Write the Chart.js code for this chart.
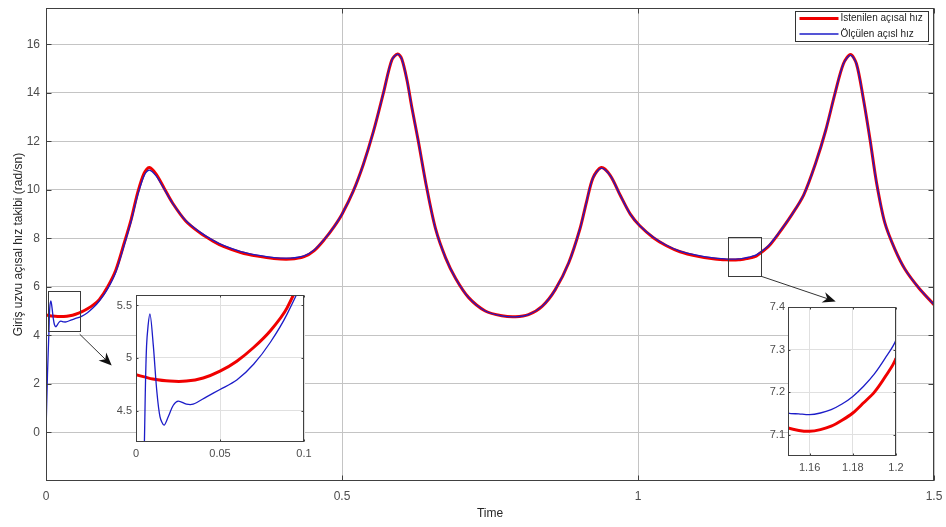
<!DOCTYPE html>
<html>
<head>
<meta charset="utf-8">
<script src="https://cdn.jsdelivr.net/npm/chart.js@4.4.1/dist/chart.umd.min.js"></script>
<style>
  body { margin: 0; background: #fff; }
  #wrap { position: relative; width: 946px; height: 527px; }
  canvas { position: absolute; }
</style>
</head>
<body>
<div id="wrap">
  <canvas id="main" width="946" height="527" style="left:0;top:0"></canvas>
  <canvas id="zoomStart" width="215" height="180" style="left:100px;top:285px"></canvas>
  <canvas id="zoomMid" width="165" height="180" style="left:745px;top:297px"></canvas>
</div>
<script>
const seriesNames = ['İstenilen açısal hız', 'Ölçülen açısl hız'];

const desiredTime = [0, 0.005, 0.01, 0.02, 0.03, 0.04, 0.05, 0.06, 0.07, 0.08, 0.09, 0.104,
  0.118, 0.132, 0.144, 0.155, 0.166, 0.1745, 0.186, 0.2, 0.214, 0.236, 0.259, 0.2815, 0.3007,
  0.329, 0.357, 0.385, 0.413, 0.436, 0.453, 0.47, 0.487, 0.5, 0.519, 0.536, 0.553, 0.57, 0.584,
  0.594, 0.601, 0.61, 0.618, 0.629, 0.643, 0.658, 0.675, 0.692, 0.714, 0.742, 0.77, 0.793, 0.815,
  0.838, 0.86, 0.883, 0.902, 0.913, 0.924, 0.938, 0.953, 0.97, 0.987, 1.003, 1.026, 1.048, 1.071,
  1.099, 1.127, 1.15, 1.155, 1.16, 1.165, 1.17, 1.175, 1.18, 1.185, 1.19, 1.195, 1.2, 1.22, 1.236,
  1.259, 1.28, 1.3, 1.317, 1.333, 1.347, 1.359, 1.369, 1.38, 1.392, 1.403, 1.417, 1.434, 1.451,
  1.474, 1.5];
const desiredSpeed = [4.84, 4.82, 4.80, 4.78, 4.78, 4.81, 4.875, 4.97, 5.10, 5.26, 5.48, 6.0,
  6.7, 7.8, 8.8, 9.9, 10.7, 10.92, 10.65, 10.05, 9.45, 8.72, 8.25, 7.9, 7.66,
  7.42, 7.27, 7.17, 7.15, 7.25, 7.5, 7.95, 8.5, 9.0, 9.95, 11.05, 12.4, 14.0, 15.35,
  15.6, 15.4, 14.5, 13.4, 12.0, 10.1, 8.4, 7.2, 6.35, 5.56, 5.01, 4.81, 4.77, 4.86,
  5.2, 5.88, 7.0, 8.4, 9.5, 10.5, 10.92, 10.6, 9.78, 9.0, 8.52, 8.03, 7.7, 7.45,
  7.27, 7.16, 7.116, 7.11, 7.108, 7.112, 7.12, 7.134, 7.151, 7.175, 7.2, 7.236, 7.28, 7.66, 8.15,
  8.95, 9.8, 11.1, 12.45, 14.0, 15.2, 15.58, 15.2, 13.85, 12.07, 10.29, 8.64, 7.55, 6.73,
  5.97, 5.27];

const measuredTime = [0, 0.0025, 0.005, 0.0063, 0.0083, 0.0103, 0.0123, 0.0143, 0.0167, 0.0192,
  0.0222, 0.0252, 0.03, 0.034, 0.042, 0.05, 0.06, 0.07, 0.08, 0.09, 0.104,
  0.118, 0.132, 0.144, 0.155, 0.166, 0.1745, 0.186, 0.2, 0.214, 0.236, 0.259, 0.2815, 0.3007,
  0.329, 0.357, 0.385, 0.413, 0.436, 0.453, 0.47, 0.487, 0.5, 0.519, 0.536, 0.553, 0.57, 0.584,
  0.594, 0.601, 0.61, 0.618, 0.629, 0.643, 0.658, 0.675, 0.692, 0.714, 0.742, 0.77, 0.793, 0.815,
  0.838, 0.86, 0.883, 0.902, 0.913, 0.924, 0.938, 0.953, 0.97, 0.987, 1.003, 1.026, 1.048, 1.071,
  1.099, 1.127, 1.15, 1.155, 1.16, 1.165, 1.17, 1.175, 1.18, 1.185, 1.19, 1.195, 1.2, 1.22, 1.236,
  1.259, 1.28, 1.3, 1.317, 1.333, 1.347, 1.359, 1.369, 1.38, 1.392, 1.403, 1.417, 1.434, 1.451,
  1.474, 1.5];
const measuredSpeed = [0, 2.4, 4.2, 5.12, 5.42, 5.12, 4.7, 4.44, 4.36, 4.44,
  4.55, 4.59, 4.56, 4.56, 4.63, 4.70, 4.79, 4.94, 5.15, 5.42, 5.92,
  6.62, 7.72, 8.72, 9.8, 10.6, 10.82, 10.58, 10.02, 9.45, 8.74, 8.28, 7.93, 7.7,
  7.46, 7.31, 7.21, 7.19, 7.28, 7.52, 7.96, 8.5, 9.0, 9.95, 11.05, 12.4, 14.0, 15.35,
  15.6, 15.4, 14.5, 13.4, 12.0, 10.1, 8.4, 7.2, 6.35, 5.56, 5.01, 4.81, 4.77, 4.86,
  5.2, 5.88, 7.0, 8.4, 9.5, 10.5, 10.9, 10.6, 9.78, 9.0, 8.52, 8.05, 7.72, 7.48,
  7.31, 7.2, 7.151, 7.149, 7.147, 7.151, 7.159, 7.172, 7.19, 7.214, 7.243, 7.28, 7.323, 7.69, 8.17,
  8.95, 9.8, 11.1, 12.45, 14.0, 15.2, 15.56, 15.2, 13.85, 12.07, 10.29, 8.64, 7.55, 6.73,
  5.97, 5.27];

const mainXTicks = [0, 0.5, 1, 1.5];
const mainYTicks = [0, 2, 4, 6, 8, 10, 12, 14, 16];
const startXTicks = [0, 0.05, 0.1];
const startYTicks = [4.5, 5, 5.5];
const midXTicks = [1.16, 1.18, 1.2];
const midYTicks = [7.1, 7.2, 7.3, 7.4];

// zoom rectangles and arrows on the main axes, in data units
const zoomBoxes = [[0.003, 0.057, 4.2, 5.84], [1.1515, 1.208, 6.44, 8.07]];
const zoomArrows = [[0.057, 4.05, 0.111, 2.76], [1.208, 6.44, 1.334, 5.4]];

const family = '"Liberation Sans", Arial, Helvetica, sans-serif';
const redColor = '#f00000';
const blueColor = '#1c1cc8';

function points(t, v) {
  return t.map((x, i) => ({ x: x, y: v[i] }));
}

function datasets(redWidth, blueWidth) {
  return [
    {
      label: seriesNames[0],
      data: points(desiredTime, desiredSpeed),
      borderColor: redColor,
      borderWidth: redWidth,
      pointRadius: 0,
      tension: 0.3,
      order: 2,
    },
    {
      label: seriesNames[1],
      data: points(measuredTime, measuredSpeed),
      borderColor: blueColor,
      borderWidth: blueWidth,
      pointRadius: 0,
      tension: 0.3,
      order: 1,
    },
  ];
}

// box round the plot area plus inward ticks, matlab style
const axisFrame = {
  id: 'axisFrame',
  beforeDraw(chart, args, opts) {
    if (!opts.fill) return;
    const a = chart.chartArea;
    chart.ctx.save();
    chart.ctx.fillStyle = '#fff';
    chart.ctx.fillRect(a.left, a.top, a.right - a.left, a.bottom - a.top);
    chart.ctx.restore();
  },
  afterDraw(chart, args, opts) {
    const { ctx, chartArea: a, scales } = chart;
    const len = opts.tick || 5;
    ctx.save();
    ctx.strokeStyle = opts.color || '#444';
    ctx.lineWidth = 1;
    const l = Math.round(a.left) + 0.5, r = Math.round(a.right) - 0.5;
    const t = Math.round(a.top) + 0.5, b = Math.round(a.bottom) - 0.5;
    ctx.strokeRect(l, t, r - l, b - t);
    ctx.beginPath();
    scales.x.ticks.forEach((tk) => {
      const px = Math.round(scales.x.getPixelForValue(tk.value)) + 0.5;
      ctx.moveTo(px, b); ctx.lineTo(px, b - len);
      ctx.moveTo(px, t); ctx.lineTo(px, t + len);
    });
    scales.y.ticks.forEach((tk) => {
      const py = Math.round(scales.y.getPixelForValue(tk.value)) + 0.5;
      ctx.moveTo(l, py); ctx.lineTo(l + len, py);
      ctx.moveTo(r, py); ctx.lineTo(r - len, py);
    });
    ctx.stroke();
    ctx.restore();
  },
};

const zoomMarks = {
  id: 'zoomMarks',
  afterDraw(chart) {
    const { ctx, scales: { x, y } } = chart;
    ctx.save();
    ctx.strokeStyle = '#3a3a3a';
    ctx.lineWidth = 1;
    zoomBoxes.forEach((bx) => {
      const x0 = Math.round(x.getPixelForValue(bx[0])) + 0.5;
      const x1 = Math.round(x.getPixelForValue(bx[1])) + 0.5;
      const y0 = Math.round(y.getPixelForValue(bx[3])) + 0.5;
      const y1 = Math.round(y.getPixelForValue(bx[2])) + 0.5;
      ctx.strokeRect(x0, y0, x1 - x0, y1 - y0);
    });
    zoomArrows.forEach((ar) => {
      const x0 = x.getPixelForValue(ar[0]), y0 = y.getPixelForValue(ar[1]);
      const x1 = x.getPixelForValue(ar[2]), y1 = y.getPixelForValue(ar[3]);
      const ang = Math.atan2(y1 - y0, x1 - x0);
      const hl = 13, hw = 5.5, notch = 9;
      ctx.strokeStyle = '#333';
      ctx.beginPath();
      ctx.moveTo(x0, y0);
      ctx.lineTo(x1 - Math.cos(ang) * notch, y1 - Math.sin(ang) * notch);
      ctx.stroke();
      const bx = x1 - Math.cos(ang) * hl, by = y1 - Math.sin(ang) * hl;
      const nx = x1 - Math.cos(ang) * notch, ny = y1 - Math.sin(ang) * notch;
      ctx.fillStyle = '#111';
      ctx.beginPath();
      ctx.moveTo(x1, y1);
      ctx.lineTo(bx - Math.sin(ang) * hw, by + Math.cos(ang) * hw);
      ctx.lineTo(nx, ny);
      ctx.lineTo(bx + Math.sin(ang) * hw, by - Math.cos(ang) * hw);
      ctx.closePath();
      ctx.fill();
    });
    ctx.restore();
  },
};

const legendBox = {
  id: 'legendBox',
  afterDraw(chart) {
    const { ctx, chartArea: a } = chart;
    const w = 133, h = 30;
    const x0 = Math.round(a.right) - 6 - w + 0.5, y0 = Math.round(a.top) + 3 + 0.5;
    ctx.save();
    ctx.fillStyle = '#fff';
    ctx.fillRect(x0, y0, w, h);
    ctx.strokeStyle = '#333';
    ctx.lineWidth = 1;
    ctx.strokeRect(x0, y0, w, h);
    const widths = [3, 1.5];
    const colors = [redColor, blueColor];
    ctx.font = '10px ' + family;
    ctx.textBaseline = 'middle';
    seriesNames.forEach((name, i) => {
      const yy = y0 + 7 + i * 15.5;
      ctx.strokeStyle = colors[i];
      ctx.lineWidth = widths[i];
      ctx.beginPath();
      ctx.moveTo(x0 + 4, yy);
      ctx.lineTo(x0 + 43, yy);
      ctx.stroke();
      ctx.fillStyle = '#222';
      ctx.fillText(name, x0 + 45, yy);
    });
    ctx.restore();
  },
};

function linearAxis(min, max, tickList, size, fontSize, pad, fitSize) {
  return {
    type: 'linear',
    min: min,
    max: max,
    afterBuildTicks: (s) => { s.ticks = tickList.map((v) => ({ value: v })); },
    afterFit: (s) => {
      if (s.isHorizontal()) s.height = fitSize; else s.width = fitSize;
      s.paddingLeft = 0; s.paddingRight = 0; s.paddingTop = 0; s.paddingBottom = 0;
    },
    grid: { color: size, drawTicks: false },
    border: { display: false },
    ticks: {
      padding: pad,
      color: '#4d4d4d',
      maxRotation: 0,
      autoSkip: false,
      font: { size: fontSize, family: family },
      callback: (v) => String(v),
    },
  };
}

Chart.defaults.font.family = family;

const mainX = linearAxis(0, 1.5, mainXTicks, '#c4c4c4', 12, 8, 46);
mainX.title = { display: true, text: 'Time', color: '#262626', font: { size: 12, family: family }, padding: { top: 0, bottom: 6 } };
const mainY = linearAxis(-2, 17.5, mainYTicks, '#c4c4c4', 12, 6, 46);
mainY.title = { display: true, text: 'Giriş uzvu açısal hız takibi (rad/sn)', color: '#262626', font: { size: 12, family: family }, padding: { top: 11, bottom: 0 } };

new Chart(document.getElementById('main'), {
  type: 'line',
  data: { datasets: datasets(3, 1.3) },
  options: {
    responsive: false,
    animation: false,
    devicePixelRatio: 1,
    layout: { padding: { top: 8, right: 12, left: 0, bottom: 0 } },
    scales: { x: mainX, y: mainY },
    plugins: {
      legend: { display: false },
      tooltip: { enabled: false },
      axisFrame: { color: '#404040', tick: 5 },
    },
  },
  plugins: [axisFrame, zoomMarks, legendBox],
});

new Chart(document.getElementById('zoomStart'), {
  type: 'line',
  data: { datasets: datasets(3, 1.3) },
  options: {
    responsive: false,
    animation: false,
    devicePixelRatio: 1,
    layout: { padding: { top: 10, right: 11, left: 0, bottom: 0 } },
    scales: {
      x: linearAxis(0, 0.1, startXTicks, '#e0e0e0', 11, 5, 23),
      y: linearAxis(4.2, 5.6, startYTicks, '#e0e0e0', 11, 4, 36),
    },
    plugins: {
      legend: { display: false },
      tooltip: { enabled: false },
      axisFrame: { color: '#404040', tick: 2, fill: true },
    },
  },
  plugins: [axisFrame],
});

new Chart(document.getElementById('zoomMid'), {
  type: 'line',
  data: { datasets: datasets(3, 1.3) },
  options: {
    responsive: false,
    animation: false,
    devicePixelRatio: 1,
    layout: { padding: { top: 10, right: 14, left: 0, bottom: 0 } },
    scales: {
      x: linearAxis(1.15, 1.2, midXTicks, '#e0e0e0', 11, 5, 21),
      y: linearAxis(7.05, 7.4, midYTicks, '#e0e0e0', 11, 3, 43),
    },
    plugins: {
      legend: { display: false },
      tooltip: { enabled: false },
      axisFrame: { color: '#404040', tick: 2, fill: true },
    },
  },
  plugins: [axisFrame],
});
</script>
</body>
</html>
